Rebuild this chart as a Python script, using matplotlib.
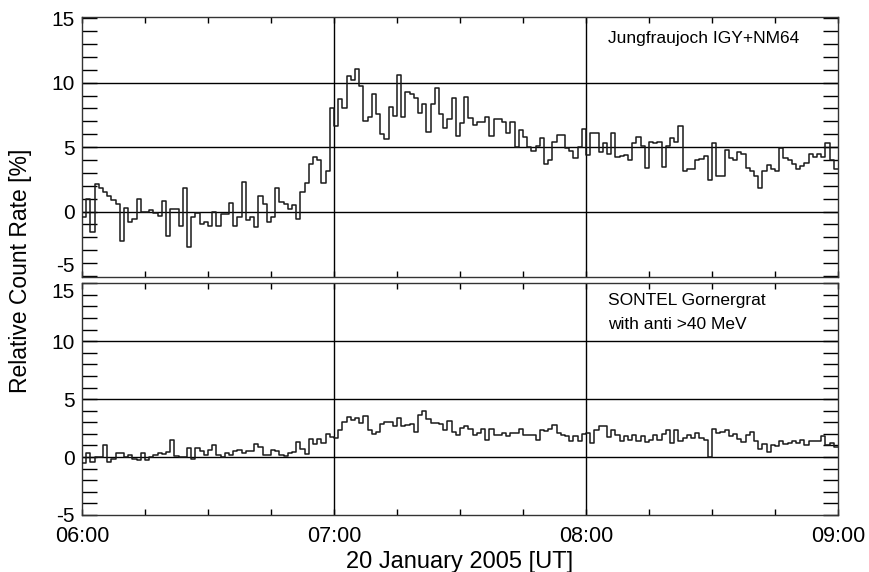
#!/usr/bin/env python3
"""
Neutron monitor / SONTEL relative count rates, 20 January 2005 GLE.
Two stacked step plots with 1-minute resolution, 06:00 - 09:00 UT.
"""

import numpy as np
import matplotlib
matplotlib.use("Agg")
import matplotlib.pyplot as plt
from matplotlib.ticker import MultipleLocator

# minutes after 06:00 UT for the hour ticks
hour_ticks = [0, 60, 120, 180]
hour_labels = ["06:00", "07:00", "08:00", "09:00"]

# Jungfraujoch IGY+NM64, relative count rate [%] per minute
jungfraujoch = [
    -0.4, 1.0, -1.6, 2.1, 1.85, 1.5, 1.2, 0.9, 0.6, -2.25,
    0.3, -0.8, -0.6, 1.0, 0.0, 0.0, 0.15, -0.1, -0.35, 0.8,
    -1.9, 0.2, 0.2, -1.1, 1.8, -2.75, -0.4, -0.1, -1.0, -0.8,
    -1.1, -0.05, -1.1, -0.2, -0.2, 0.7, -1.1, -0.4, 2.27, -0.65,
    -0.4, -1.2, 1.2, 0.6, -0.8, -0.45, 1.8, 0.78, 0.57, 0.18,
    0.5, -0.57, 1.55, 2.2, 3.7, 4.26, 4.0, 2.25, 3.15, 8.0,
    6.64, 8.76, 8.06, 10.52, 10.2, 11.06, 9.74, 7.03, 7.37, 9.12,
    7.55, 6.0, 5.61, 8.14, 7.42, 10.6, 7.37, 9.3, 9.1, 8.84,
    7.63, 8.33, 6.2, 8.33, 9.56, 7.55, 6.51, 7.16, 8.79, 5.87,
    6.85, 8.86, 7.27, 6.68, 6.97, 6.97, 7.37, 5.87, 7.16, 7.16,
    6.97, 6.1, 6.97, 5.0, 6.36, 5.8, 5.0, 4.72, 5.1, 5.7,
    3.66, 4.0, 5.39, 5.91, 5.91, 4.93, 4.72, 4.13, 5.0, 6.4,
    4.4, 6.1, 6.1, 4.65, 5.35, 4.5, 6.1, 4.27, 4.3, 4.35,
    4.0, 5.3, 5.75, 5.05, 3.4, 5.39, 5.3, 5.39, 3.45, 5.05,
    5.7, 5.4, 6.6, 3.15, 3.3, 3.3, 4.0, 4.1, 4.3, 2.45,
    5.35, 2.77, 2.77, 4.77, 4.17, 4.0, 4.65, 4.5, 3.4, 3.15,
    2.76, 1.8, 3.15, 3.6, 3.3, 3.15, 4.9, 4.17, 4.0, 3.66,
    3.3, 3.5, 3.75, 4.5, 4.2, 4.5, 4.2, 5.3, 4.0, 3.3,
]

# SONTEL Gornergrat with anti >40 MeV, relative count rate [%] per minute
sontel = [
    -0.5, 0.35, -0.46, 0.0, 0.0, 1.0, -0.46, -0.17, 0.35, 0.35,
    0.0, 0.2, -0.17, -0.29, 0.35, -0.29, 0.0, 0.2, 0.35, 0.29,
    0.4, 1.5, 0.1, 0.0, 0.0, 0.78, -0.17, 0.78, 0.5, 0.14,
    0.63, 1.0, 0.2, 0.0, 0.35, 0.14, 0.5, 0.57, 0.35, 0.5,
    0.5, 1.15, 0.9, 0.2, 0.2, 0.63, 0.5, 0.2, 0.06, 0.35,
    0.4, 1.26, 0.7, 0.29, 1.55, 1.15, 1.55, 1.2, 2.0, 1.7,
    1.64, 2.36, 3.0, 3.45, 3.2, 3.36, 2.93, 3.5, 2.36, 2.0,
    2.2, 2.87, 3.05, 3.05, 2.7, 3.36, 2.64, 2.8, 2.87, 2.2,
    3.65, 4.0, 3.28, 2.93, 2.93, 2.85, 2.3, 3.07, 2.2, 1.87,
    2.5, 2.64, 2.4, 1.87, 2.1, 2.4, 1.5, 2.44, 1.87, 1.87,
    2.1, 1.78, 2.07, 2.1, 2.4, 1.92, 1.87, 1.92, 1.44, 2.36,
    2.27, 2.4, 2.8, 2.07, 1.92, 1.78, 1.35, 1.84, 1.35, 2.0,
    2.1, 1.2, 2.36, 2.64, 2.64, 1.7, 2.36, 1.87, 1.35, 1.78,
    1.5, 1.87, 1.35, 1.78, 1.3, 1.5, 1.92, 1.5, 2.0, 2.3,
    1.2, 2.36, 1.35, 1.64, 1.92, 1.64, 2.07, 1.64, 1.5, 0.0,
    2.4, 2.07, 2.2, 2.3, 1.84, 1.98, 1.55, 1.26, 1.92, 2.2,
    1.35, 0.7, 1.15, 0.4, 1.06, 0.92, 1.35, 1.15, 1.2, 1.35,
    1.2, 1.5, 1.06, 1.35, 1.35, 1.35, 1.78, 1.06, 1.2, 0.86,
]

panel_labels = [["Jungfraujoch IGY+NM64"],
                ["SONTEL Gornergrat", "with anti >40 MeV"]]

plt.rcParams["font.family"] = ["Liberation Sans", "DejaVu Sans"]
plt.rcParams["axes.unicode_minus"] = False


def style_panel(ax, ylim):
    ax.set_xlim(0, 180)
    ax.set_ylim(*ylim)
    for v in [0, 5, 10]:
        ax.axhline(v, color="black", lw=1.0, zorder=1)
    for m in [60, 120]:
        ax.axvline(m, color="black", lw=1.0, zorder=1)

    ax.set_yticks([-5, 0, 5, 10, 15])
    ax.yaxis.set_minor_locator(MultipleLocator(1))
    ax.set_xticks(hour_ticks)
    ax.xaxis.set_minor_locator(MultipleLocator(15))
    ax.tick_params(axis="y", which="both", direction="in", left=True, right=True,
                   length=11, width=1.0, labelsize=15, pad=5)
    ax.tick_params(axis="x", which="both", direction="in", top=True, bottom=True,
                   length=4, width=1.0)
    for s in ax.spines.values():
        s.set_linewidth(1.0)
        s.set_color("#333333")


fig = plt.figure(figsize=(8.69, 5.72), dpi=100)
ax1 = fig.add_axes([0.0944, 0.5163, 0.8699, 0.4535])
ax2 = fig.add_axes([0.0944, 0.0997, 0.8699, 0.4061])

minutes = np.arange(len(jungfraujoch) + 1)

# (axes, data, label lines, y-limits, label line y positions in axes fraction)
for ax, data, lines, ylim, ys in [
    (ax1, jungfraujoch, panel_labels[0], (-5.05, 15.07), [0.92]),
    (ax2, sontel, panel_labels[1], (-5.0, 15.05), [0.922, 0.822]),
]:
    style_panel(ax, ylim)
    y = list(data) + [data[-1]]
    ax.step(minutes, y, where="post", color="#1a1a1a", lw=1.1, zorder=3)
    for line, yy in zip(lines, ys):
        ax.text(0.696, yy, line, transform=ax.transAxes, ha="left", va="center",
                fontsize=12.5)

# the -5 of the upper panel and the 15 of the lower one sit apart from each other
for tick, loc in zip(ax1.yaxis.get_major_ticks(), ax1.get_yticks()):
    if loc == -5:
        tick.label1.set_verticalalignment("bottom")
for tick, loc in zip(ax2.yaxis.get_major_ticks(), ax2.get_yticks()):
    if loc == 15:
        tick.label1.set_verticalalignment("top")

ax1.set_xticklabels([])
ax2.set_xticklabels(hour_labels, fontsize=15.5)
ax2.tick_params(axis="x", pad=8)
ax2.set_xlabel("20 January 2005 [UT]", fontsize=17, labelpad=3)

fig.text(0.024, 1 - 271 / 572, "Relative Count Rate [%]", rotation=90,
         ha="center", va="center", fontsize=16.5)

fig.savefig("out.png", dpi=100)
